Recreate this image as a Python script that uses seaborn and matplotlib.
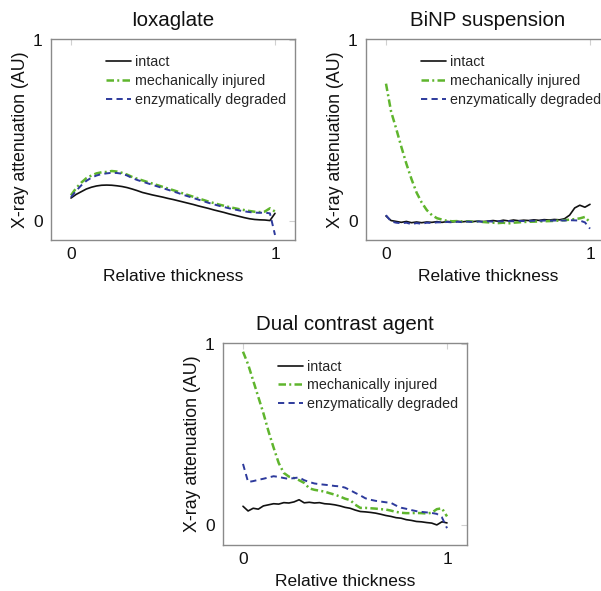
import numpy as np
import pandas as pd
import matplotlib
matplotlib.use("Agg")
import matplotlib.pyplot as plt
import seaborn as sns

# ---------------- data ----------------
x = [0.0, 0.025, 0.05, 0.075, 0.1, 0.125, 0.15, 0.175, 0.2, 0.225,
     0.25, 0.275, 0.3, 0.325, 0.35, 0.375, 0.4, 0.425, 0.45, 0.475,
     0.5, 0.525, 0.55, 0.575, 0.6, 0.625, 0.65, 0.675, 0.7, 0.725,
     0.75, 0.775, 0.8, 0.825, 0.85, 0.875, 0.9, 0.925, 0.95, 0.975, 1.0]

conditions = ["intact", "mechanically injured", "enzymatically degraded"]
titles = ["Ioxaglate", "BiNP suspension", "Dual contrast agent"]
xlabel = "Relative thickness"
ylabel = "X-ray attenuation (AU)"
tick_values = [0, 1]
tick_labels = ["0", "1"]

iox_intact = [0.125, 0.145, 0.16, 0.175, 0.185, 0.192, 0.196, 0.197, 0.196, 0.193,
              0.189, 0.183, 0.175, 0.166, 0.156, 0.149, 0.142, 0.136, 0.13, 0.123,
              0.117, 0.11, 0.103, 0.096, 0.089, 0.081, 0.074, 0.067, 0.059, 0.052,
              0.045, 0.037, 0.03, 0.023, 0.016, 0.01, 0.006, 0.004, 0.003, 0.0, 0.04]
iox_mech = [0.14, 0.18, 0.21, 0.235, 0.25, 0.262, 0.268, 0.27, 0.275, 0.272,
            0.265, 0.255, 0.242, 0.232, 0.223, 0.214, 0.205, 0.196, 0.187, 0.178,
            0.169, 0.16, 0.15, 0.141, 0.132, 0.123, 0.114, 0.105, 0.097, 0.089,
            0.082, 0.075, 0.069, 0.063, 0.058, 0.053, 0.049, 0.047, 0.05, 0.068, 0.05]
iox_enz = [0.13, 0.165, 0.195, 0.22, 0.238, 0.25, 0.258, 0.262, 0.265, 0.264,
           0.26, 0.25, 0.236, 0.225, 0.216, 0.207, 0.198, 0.189, 0.18, 0.171,
           0.162, 0.153, 0.143, 0.134, 0.125, 0.116, 0.107, 0.098, 0.09, 0.082,
           0.075, 0.068, 0.062, 0.056, 0.051, 0.047, 0.044, 0.043, 0.044, 0.04, -0.08]

binp_intact = [0.025, 0.0, -0.005, -0.01, -0.005, -0.012, -0.008, -0.012, -0.008, -0.01,
               -0.006, -0.01, -0.005, -0.008, -0.004, -0.007, -0.004, -0.006, -0.003, -0.006,
               -0.003, 0.0, -0.004, 0.002, -0.002, 0.003, -0.001, 0.002, 0.0, 0.004,
               0.001, 0.005, 0.003, 0.006, 0.004, 0.01, 0.03, 0.07, 0.085, 0.074, 0.09]
binp_mech = [0.76, 0.605, 0.51, 0.41, 0.315, 0.23, 0.155, 0.1, 0.058, 0.03,
             0.013, 0.005, -0.002, -0.004, -0.003, -0.005, -0.004, -0.006, -0.005, -0.008,
             -0.01, -0.012, -0.014, -0.012, -0.016, -0.012, -0.01, -0.008, -0.007, -0.006,
             -0.005, -0.004, -0.003, -0.002, 0.0, 0.002, 0.005, 0.008, 0.012, 0.02, -0.01]
binp_enz = [0.03, -0.005, -0.012, -0.015, -0.012, -0.02, -0.014, -0.018, -0.012, -0.014,
            -0.01, -0.01, -0.008, -0.01, -0.007, -0.009, -0.006, -0.008, -0.005, -0.007,
            -0.004, -0.006, -0.004, -0.005, -0.003, -0.004, -0.002, -0.003, -0.002, -0.001,
            -0.002, 0.0, -0.001, 0.0, 0.001, 0.0, 0.002, 0.001, 0.0, -0.01, -0.045]

dual_intact = [0.106, 0.08, 0.095, 0.09, 0.108, 0.114, 0.12, 0.118, 0.126, 0.124,
               0.13, 0.142, 0.125, 0.128, 0.124, 0.126, 0.12, 0.118, 0.114, 0.108,
               0.1, 0.095, 0.085, 0.077, 0.075, 0.072, 0.068, 0.062, 0.055, 0.05,
               0.043, 0.04, 0.032, 0.028, 0.022, 0.02, 0.016, 0.013, 0.003, 0.02, 0.014]
dual_mech = [0.96, 0.89, 0.8, 0.71, 0.62, 0.52, 0.43, 0.345, 0.29, 0.27,
             0.262, 0.25, 0.235, 0.205, 0.197, 0.192, 0.187, 0.178, 0.17, 0.16,
             0.148, 0.14, 0.115, 0.097, 0.097, 0.095, 0.093, 0.09, 0.088, 0.082,
             0.075, 0.07, 0.068, 0.068, 0.069, 0.068, 0.066, 0.07, 0.09, 0.095, 0.05]
dual_enz = [0.34, 0.24, 0.245, 0.252, 0.258, 0.265, 0.272, 0.268, 0.262, 0.257,
            0.262, 0.265, 0.25, 0.24, 0.232, 0.228, 0.225, 0.222, 0.218, 0.216,
            0.209, 0.195, 0.18, 0.166, 0.15, 0.142, 0.136, 0.132, 0.128, 0.125,
            0.11, 0.098, 0.092, 0.085, 0.079, 0.075, 0.072, 0.069, 0.064, 0.045, -0.015]

panels = [
    (iox_intact, iox_mech, iox_enz),
    (binp_intact, binp_mech, binp_enz),
    (dual_intact, dual_mech, dual_enz),
]

# ---------------- style ----------------
sns.set_theme(style="white")
plt.rcParams["font.family"] = ["Liberation Sans", "DejaVu Sans"]

colors = {"intact": "#111111",
          "mechanically injured": "#5fb52d",
          "enzymatically degraded": "#2d3a9c"}
linestyles = {"intact": "-",
              "mechanically injured": (0, (3.0, 1.3, 0.8, 1.3)),
              "enzymatically degraded": (0, (3.2, 2.2))}
widths = {"intact": 1.2, "mechanically injured": 1.8, "enzymatically degraded": 1.4}

W, H = 601, 591
fig = plt.figure(figsize=(W / 100, H / 100), dpi=100)

# axes boxes in pixels: left, top, width, height
boxes = [(51, 39, 244, 201), (366, 39, 244, 201), (223, 343, 244, 202)]

for (left, top, w, h), title, series in zip(boxes, titles, panels):
    ax = fig.add_axes([left / W, 1 - (top + h) / H, w / W, h / H])
    for cond, vals in zip(conditions, series):
        df = pd.DataFrame({"x": x, "y": vals})
        sns.lineplot(data=df, x="x", y="y", ax=ax, color=colors[cond],
                     linewidth=widths[cond], linestyle=linestyles[cond],
                     estimator=None, sort=False, label=cond, legend=False)
    ax.set_xlim(-0.098, 1.098)
    ax.set_ylim(-0.108, 1.008)
    ax.set_xticks(tick_values)
    ax.set_xticklabels(tick_labels)
    ax.set_yticks(tick_values)
    ax.set_yticklabels(tick_labels)
    ax.tick_params(axis="both", direction="in", top=True, right=True,
                   length=4, width=0.8, color="#d0d0d0", labelsize=12.5,
                   labelcolor="#111111")
    ax.tick_params(axis="x", pad=5)
    ax.tick_params(axis="y", pad=6)
    for sp in ax.spines.values():
        sp.set_color("#8a8a8a")
        sp.set_linewidth(1.0)
    ax.set_title(title, fontsize=14.8, pad=9, color="#111111")
    ax.set_xlabel(xlabel, fontsize=12.5, labelpad=5, color="#111111")
    ax.set_ylabel(ylabel, fontsize=12.8, labelpad=3, color="#111111")
    ax.legend(loc="upper left", bbox_to_anchor=(0.226, 0.918), frameon=False,
              fontsize=10.3, handlelength=1.75, handletextpad=0.25,
              labelspacing=0.33, borderpad=0, borderaxespad=0)

fig.savefig("out.png", dpi=100)
